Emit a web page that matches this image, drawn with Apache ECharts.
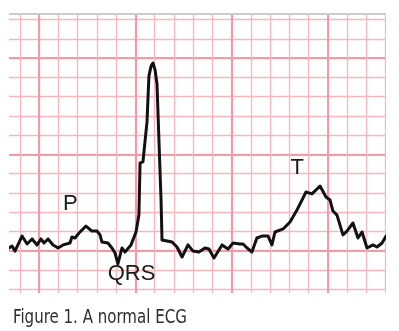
<!DOCTYPE html>
<html>
<head>
<meta charset="utf-8">
<script src="https://cdn.jsdelivr.net/npm/echarts@6/dist/echarts.min.js"></script>
<style>
html,body{margin:0;padding:0;background:#ffffff;}
#chart{width:399px;height:331px;}
</style>
</head>
<body>
<div id="chart"></div>
<script>
// ECG trace, in small-box units (1 box = 1 mm of ECG paper)
const traceTime = [
  -1.56,-1.40,-1.25,-0.88,-0.62,-0.36,-0.10,0.10,0.26,0.47,0.73,0.99,1.25,1.61,1.71,1.87,2.08,2.44,2.75,3.01,
  3.17,3.27,3.58,3.79,3.95,4.10,4.31,4.47,4.52,4.78,5.04,5.19,5.25,5.40,5.61,5.71,5.82,5.92,6.03,6.13,
  6.23,6.34,6.39,6.91,7.17,7.43,7.74,8.00,8.31,8.62,8.83,9.09,9.51,9.82,10.08,10.44,10.60,10.81,11.06,11.32,
  11.58,11.90,12.10,12.26,12.68,13.04,13.40,13.87,14.18,14.60,14.91,15.12,15.27,15.48,15.79,16.00,16.31,16.57,16.78,17.04,
  17.35,17.56,17.82,18.03
];
const traceVolt = [
  0.13,0.23,-0.03,0.75,0.34,0.60,0.29,0.60,0.39,0.60,0.29,0.13,0.29,0.39,0.70,0.65,0.91,1.27,1.01,1.01,
  0.81,0.44,0.39,0.13,-0.13,-0.70,0.13,-0.08,-0.13,0.29,0.96,1.84,4.55,4.60,6.68,9.06,9.58,9.74,9.38,8.65,
  5.74,2.62,0.55,0.44,0.18,-0.34,0.29,-0.03,-0.08,0.13,0.08,-0.39,0.29,0.08,0.39,0.34,0.34,0.13,-0.08,0.65,
  0.75,0.75,0.29,0.96,1.12,1.48,2.10,3.04,2.94,3.35,2.78,2.62,2.05,1.84,0.81,1.01,1.43,0.65,0.96,0.13,
  0.29,0.18,0.39,0.75
];
// Wave annotations
const waveNames = ['P', 'QRS', 'T'];
const waveTime = [1.63, 4.81, 13.41];
const waveVolt = [2.44, -1.22, 4.31];
const captionText = 'Figure 1. A normal ECG';

const chart = echarts.init(document.getElementById('chart'), null, {renderer: 'canvas'});

const hidden = {
  axisLine: {show: false}, axisTick: {show: false}, axisLabel: {show: false}
};
const noSplit = {show: false};
const thin = {show: true, lineStyle: {color: '#f5b6be', width: 1.3}};
const thick = {show: true, lineStyle: {color: '#f29aa6', width: 2}};

const option = {
  animation: false,
  backgroundColor: '#ffffff',
  grid: [
    // fine 1-box grid (also hosts the trace)
    {left: 0.5, right: 13.5, top: 0.25, bottom: 22.75, containLabel: false},
    // heavy vertical lines every 5 boxes
    {left: 39, right: 71.25, top: 0.25, bottom: 22.75, containLabel: false},
    // heavy horizontal lines every 5 boxes
    {left: 0.5, right: 13.5, top: 58, bottom: 80.5, containLabel: false}
  ],
  xAxis: [
    Object.assign({gridIndex: 0, type: 'value', min: -2, max: 18, interval: 1, splitLine: thin}, hidden),
    Object.assign({gridIndex: 1, type: 'value', min: 0, max: 15, interval: 5, splitLine: thick}, hidden),
    Object.assign({gridIndex: 2, type: 'value', min: 0, max: 20, interval: 5, splitLine: noSplit}, hidden)
  ],
  yAxis: [
    Object.assign({gridIndex: 0, type: 'value', min: -3, max: 13, interval: 1, splitLine: thin}, hidden),
    Object.assign({gridIndex: 1, type: 'value', min: -3, max: 13, interval: 1, splitLine: noSplit}, hidden),
    Object.assign({gridIndex: 2, type: 'value', min: 0, max: 10, interval: 5, splitLine: thick}, hidden)
  ],
  graphic: [
    {type: 'rect', z: 50, silent: true, shape: {x: 0, y: 0, width: 9, height: 331}, style: {fill: '#ffffff'}},
    {type: 'rect', z: 50, silent: true, shape: {x: 386, y: 0, width: 13, height: 331}, style: {fill: '#ffffff'}},
    {type: 'rect', z: 50, silent: true, shape: {x: 0, y: 0, width: 399, height: 13}, style: {fill: '#ffffff'}},
    {type: 'rect', z: 50, silent: true, shape: {x: 0, y: 293, width: 399, height: 38}, style: {fill: '#ffffff'}},
    {type: 'rect', z: 51, silent: true, shape: {x: 9, y: 13, width: 377, height: 2}, style: {fill: '#cbcbcb'}},
    {
      type: 'text', z: 60, silent: true,
      x: 13, y: 318, scaleX: 0.88,
      style: {
        x: 0, y: 0,
        text: captionText,
        fill: '#2e2e2e',
        font: "19px 'DejaVu Sans Condensed', 'DejaVu Sans', sans-serif",
        align: 'left',
        verticalAlign: 'middle'
      }
    }
  ],
  series: [
    {
      type: 'line',
      xAxisIndex: 0, yAxisIndex: 0,
      data: traceTime.map((t, i) => [t, traceVolt[i]]),
      showSymbol: false,
      symbol: 'none',
      lineStyle: {color: '#111111', width: 3, join: 'round', cap: 'round'},
      z: 5,
      silent: true
    },
    {
      type: 'scatter',
      xAxisIndex: 0, yAxisIndex: 0,
      data: waveNames.map((n, i) => ({name: n, value: [waveTime[i], waveVolt[i]]})),
      symbolSize: 1,
      itemStyle: {color: 'rgba(0,0,0,0)', opacity: 1},
      z: 6,
      silent: true,
      label: {
        show: true,
        position: 'inside',
        formatter: p => p.name,
        fontFamily: 'Liberation Sans',
        fontSize: 22,
        color: '#1a1a1a',
        opacity: 1,
        textBorderWidth: 0
      }
    }
  ]
};
chart.setOption(option);
</script>
</body>
</html>
